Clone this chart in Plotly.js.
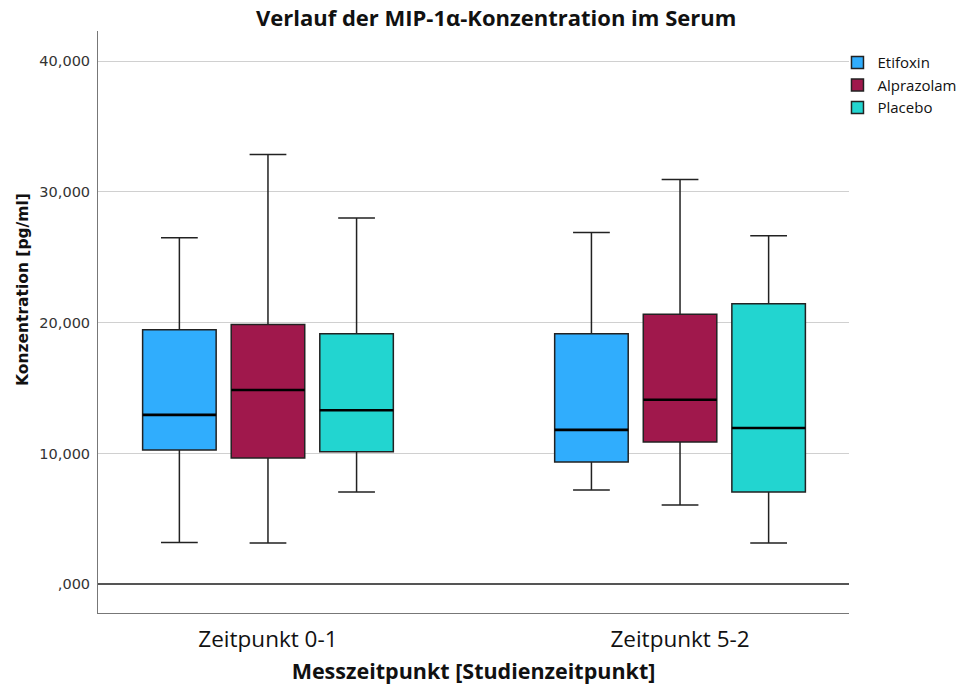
<!DOCTYPE html>
<html>
<head>
<meta charset="utf-8">
<script src="https://cdn.plot.ly/plotly-3.0.1.min.js"></script>
<style>html,body{margin:0;padding:0;background:#fff;}#chart{width:969px;height:686px;}</style>
</head>
<body>
<div id="chart"></div>
<script>
var categories = ['Zeitpunkt 0-1', 'Zeitpunkt 5-2'];
var seriesNames = ['Etifoxin', 'Alprazolam', 'Placebo'];
var seriesColors = ['#30adfd', '#a0184c', '#22d5d0'];

var etifoxinLower  = [3200, 7200];
var etifoxinQ1     = [10270, 9350];
var etifoxinMedian = [12950, 11800];
var etifoxinQ3     = [19450, 19150];
var etifoxinUpper  = [26500, 26900];

var alprazolamLower  = [3150, 6050];
var alprazolamQ1     = [9650, 10880];
var alprazolamMedian = [14850, 14100];
var alprazolamQ3     = [19850, 20650];
var alprazolamUpper  = [32850, 30950];

var placeboLower  = [7050, 3150];
var placeboQ1     = [10120, 7050];
var placeboMedian = [13300, 11950];
var placeboQ3     = [19150, 21450];
var placeboUpper  = [28000, 26650];

var tickVals = [0, 10000, 20000, 30000, 40000];
var tickTexts = [',000', '10,000', '20,000', '30,000', '40,000'];

var stats = [
  [etifoxinLower, etifoxinQ1, etifoxinMedian, etifoxinQ3, etifoxinUpper],
  [alprazolamLower, alprazolamQ1, alprazolamMedian, alprazolamQ3, alprazolamUpper],
  [placeboLower, placeboQ1, placeboMedian, placeboQ3, placeboUpper]
];

var traces = seriesNames.map(function (name, i) {
  var s = stats[i];
  return {
    type: 'box',
    name: name,
    x: categories,
    lowerfence: s[0],
    q1: s[1],
    median: s[2],
    q3: s[3],
    upperfence: s[4],
    boxpoints: false,
    fillcolor: seriesColors[i],
    line: {color: '#222', width: 1.5},
    whiskerwidth: 0.5,
    alignmentgroup: 'all',
    offsetgroup: name,
    hoverinfo: 'skip'
  };
});

// thicker median lines, overlaid in the same offset slots
var medianTraces = seriesNames.map(function (name, i) {
  var m = stats[i][2];
  return {
    type: 'box',
    name: name + ' median',
    x: categories,
    lowerfence: m,
    q1: m,
    median: m,
    q3: m,
    upperfence: m,
    boxpoints: false,
    fillcolor: 'rgba(0,0,0,0)',
    line: {color: '#000', width: 2.6},
    whiskerwidth: 0,
    alignmentgroup: 'all',
    offsetgroup: name,
    showlegend: false,
    hoverinfo: 'skip'
  };
});

var layout = {
  width: 969,
  height: 686,
  margin: {l: 98, r: 0, t: 31, b: 73},
  paper_bgcolor: '#ffffff',
  plot_bgcolor: '#ffffff',
  boxmode: 'group',
  boxgap: 0.355,
  boxgroupgap: 0.17,
  showlegend: true,
  title: {
    text: 'Verlauf der MIP-1α-Konzentration im Serum',
    font: {family: 'Open Sans', size: 22, color: '#111', weight: 'bold'},
    x: 0.512, xref: 'container', xanchor: 'center',
    y: 0.973, yref: 'container', yanchor: 'middle'
  },
  xaxis: {
    type: 'category',
    domain: [0, 0.8622],
    range: [-0.4125, 1.41],
    showline: true,
    linecolor: '#777',
    linewidth: 1,
    showgrid: false,
    ticks: '',
    ticklabelstandoff: 6,
    tickfont: {family: 'Open Sans', size: 22.5, color: '#111'},
    title: {
      text: 'Messzeitpunkt [Studienzeitpunkt]',
      font: {family: 'Open Sans', size: 21.5, color: '#111', weight: 'bold'},
      standoff: 10
    },
    fixedrange: true
  },
  yaxis: {
    range: [-2200, 42300],
    tickvals: tickVals,
    ticktext: tickTexts,
    showline: true,
    linecolor: '#777',
    linewidth: 1,
    showgrid: true,
    gridcolor: '#d0d0d0',
    gridwidth: 1,
    zeroline: true,
    zerolinecolor: '#555',
    zerolinewidth: 1.5,
    ticks: '',
    ticklabelstandoff: 4,
    tickfont: {family: 'DejaVu Sans', size: 14.5, color: '#333'},
    fixedrange: true
  },
  annotations: [{
    text: 'Konzentration [pg/ml]',
    xref: 'paper', yref: 'paper',
    x: -0.0861, y: 0.555,
    xanchor: 'center', yanchor: 'middle',
    textangle: -90,
    showarrow: false,
    font: {family: 'DejaVu Sans', size: 15.5, color: '#111', weight: 'bold'}
  }],
  legend: {
    x: 0.849, xanchor: 'left',
    y: 0.974, yanchor: 'top',
    font: {family: 'Open Sans', size: 15, color: '#111'},
    bgcolor: 'rgba(0,0,0,0)',
    tracegroupgap: 0,
    itemwidth: 30
  }
};

Plotly.newPlot('chart', traces.concat(medianTraces), layout, {displayModeBar: false, staticPlot: true});
</script>
</body>
</html>
